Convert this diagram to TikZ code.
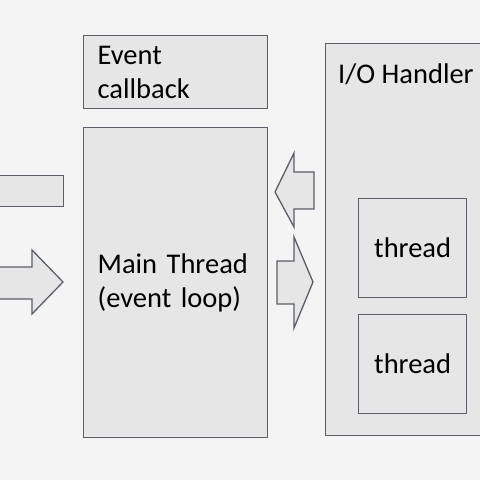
\documentclass[tikz,border=0pt]{standalone}
\usepackage{fontspec}
\setmainfont{Carlito}
\usetikzlibrary{positioning}
\definecolor{bgcol}{RGB}{244,244,244}
\definecolor{boxfill}{RGB}{230,230,230}
\definecolor{boxline}{RGB}{90,95,104}

\begin{document}
\begin{tikzpicture}[x=1pt, y=-1pt,
    box/.style={draw=boxline, fill=boxfill, line width=1.3pt, anchor=north west, inner sep=0pt},
    txtbox/.style={box, inner xsep=14pt, align=left, font=\fontsize{28.5}{34}\selectfont},
    txt/.style={inner sep=0pt, font=\fontsize{28.5}{34}\selectfont},
    blockarrow/.style={draw=boxline, fill=boxfill, line width=1.3pt, line join=miter}]

    % Background and page size
    \fill[bgcol] (0,0) rectangle (480,480);
    \useasboundingbox (0,0) rectangle (480,480);
    \clip (0,0) rectangle (480,480);

    % Event callback
    \node[txtbox, text width=156pt, minimum height=73pt] (callback) at (83,35) {Event\\callback};

    % Main thread
    \node[txtbox, text width=156pt, minimum height=310pt] (main) at (83,127) {Main Thread\\(event loop)};

    % I/O handler with its threads
    \node[box, minimum width=172pt, minimum height=392pt] (io) at (325,43) {};
    \node[txt, anchor=base west] (iotxt) at (338,83) {I/O Handler};
    \node[box, minimum width=108pt, minimum height=99pt, font=\fontsize{28.5}{34}\selectfont] (thread1) at (358,198) {thread};
    \node[box, minimum width=108pt, minimum height=99pt, font=\fontsize{28.5}{34}\selectfont] (thread2) at (358,314) {thread};

    % Left side
    \node[box, minimum width=75pt, minimum height=31pt] (inbar) at (-12,175) {};
    \draw[blockarrow] (-12,267) -- (32,267) -- (32,250) -- (63,282) -- (32,314) -- (32,299) -- (-12,299) -- cycle;

    % Arrows between main thread and I/O handler
    \draw[blockarrow] (314,172) -- (294,172) -- (294,153) -- (275,192) -- (294,227) -- (294,209) -- (314,209) -- cycle;
    \draw[blockarrow] (277,261) -- (294,261) -- (294,237) -- (313,282) -- (294,328) -- (294,304) -- (277,304) -- cycle;

\end{tikzpicture}
\end{document}
